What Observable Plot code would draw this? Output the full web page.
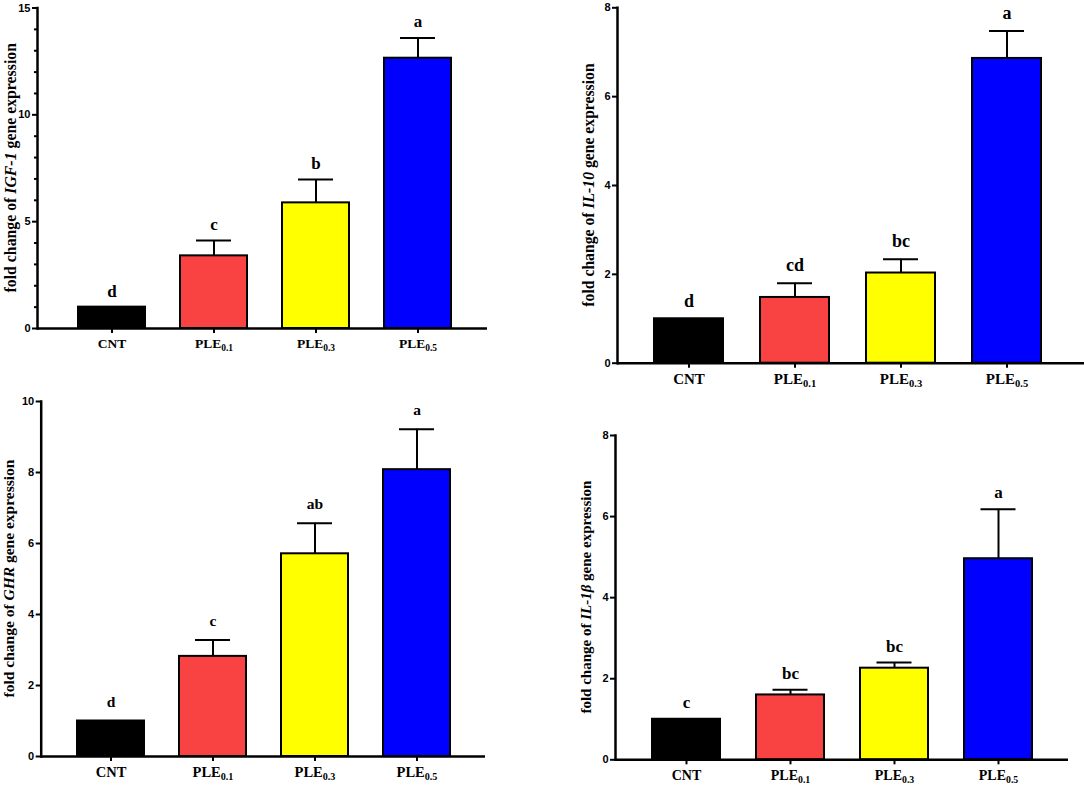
<!DOCTYPE html>
<html><head><meta charset="utf-8">
<script src="https://cdn.jsdelivr.net/npm/d3@7"></script>
<script src="https://cdn.jsdelivr.net/npm/@observablehq/plot@0.6"></script>
<style>
body{margin:0;background:#fff;}
#root{position:relative;width:1084px;height:787px;overflow:hidden;background:#fff;}
.panel{position:absolute;}
</style></head><body><div id="root"></div>
<script>
// ---- data ----
const categories = ["CNT", "PLE0.1", "PLE0.3", "PLE0.5"];
const barColors = ["#000000", "#f94343", "#ffff00", "#0000ff"];

const igf1Values = [1.0, 3.40, 5.88, 12.65];
const igf1Errors = [0, 0.72, 1.09, 0.95];
const igf1Letters = ["d", "c", "b", "a"];

const il10Values = [1.0, 1.48, 2.03, 6.86];
const il10Errors = [0, 0.32, 0.31, 0.62];
const il10Letters = ["d", "cd", "bc", "a"];

const ghrValues = [1.0, 2.82, 5.71, 8.08];
const ghrErrors = [0, 0.46, 0.86, 1.14];
const ghrLetters = ["d", "c", "ab", "a"];

const il1bValues = [1.0, 1.60, 2.26, 4.96];
const il1bErrors = [0, 0.13, 0.14, 1.22];
const il1bLetters = ["c", "bc", "bc", "a"];

const igf1Ticks = [0, 5, 10, 15];
const igf1Minor = [1, 2, 3, 4, 6, 7, 8, 9, 11, 12, 13, 14];
const il10Ticks = [0, 2, 4, 6, 8];
const ghrTicks = [0, 2, 4, 6, 8, 10];
const il1bTicks = [0, 2, 4, 6, 8];

const SERIF = "'Liberation Serif', 'Times New Roman', serif";
const SANS = "'Liberation Sans', Arial, sans-serif";

function panel(cfg) {
  const data = categories.map((c, i) => ({cat: c, v: cfg.values[i], e: cfg.errors[i], letter: cfg.letters[i]}));
  const errData = data.filter(d => d.e > 0);
  const c = cfg.centers;
  const step = (c[3] - c[0]) / 3;
  const pin = 1 - cfg.barWidth / step;
  const capInset = (cfg.barWidth - 35) / 2;
  const marks = [
    Plot.barY(data, {x: "cat", y: "v", fill: "cat", stroke: "#000", strokeWidth: 2}),
    Plot.ruleX(errData, {x: "cat", y1: "v", y2: d => d.v + d.e, stroke: "#000", strokeWidth: 2}),
    Plot.tickY(errData, {x: "cat", y: d => d.v + d.e, stroke: "#000", strokeWidth: 2, insetLeft: capInset, insetRight: capInset}),
    Plot.text(data, {x: "cat", y: d => d.v + d.e, text: "letter", dy: cfg.letterDy, lineAnchor: "bottom",
      fontSize: cfg.letterSize, fontWeight: "bold", fontFamily: SERIF, fill: "#000"}),
    Plot.axisY({ticks: cfg.ticks, tickSize: 5, tickPadding: 2, tickFormat: d => String(d), fontSize: 11,
      fontWeight: "bold", fontFamily: SANS, strokeWidth: 2, label: null, fill: "#000"}),
  ];
  if (cfg.minor) marks.push(Plot.axisY({ticks: cfg.minor, tickSize: 3, tickFormat: () => "", strokeWidth: 2, label: null}));
  marks.push(
    Plot.axisX({tickSize: 5, tickPadding: 5, fontSize: cfg.xSize, fontWeight: "bold", fontFamily: SERIF,
      strokeWidth: 2, label: null, fill: "#000"}),
    Plot.ruleY([0], {strokeWidth: 2.5, stroke: "#000"}),
    Plot.frame({anchor: "left", strokeWidth: 2.5, stroke: "#000"})
  );
  const svg = Plot.plot({
    width: cfg.width, height: cfg.height,
    marginLeft: cfg.mL, marginRight: cfg.mR, marginTop: cfg.mT, marginBottom: cfg.mB,
    style: {background: "white", overflow: "visible", color: "#000"},
    x: {domain: categories, range: [c[0] - step / 2, c[3] + step / 2], paddingInner: pin, paddingOuter: pin / 2, axis: null},
    y: {domain: [0, cfg.ticks[cfg.ticks.length - 1]], axis: null},
    color: {domain: categories, range: barColors},
    marks
  });
  const s = d3.select(svg);
  // subscripts on x tick labels
  s.selectAll('g[aria-label="x-axis tick label"] text').each(function () {
    const t = this.textContent;
    const m = t.match(/^PLE(.+)$/);
    if (m) {
      this.textContent = "PLE";
      d3.select(this).append("tspan").attr("font-size", cfg.xSize * 0.7).attr("dy", "0.3em").text(m[1]);
    }
  });
  // y axis title with italic gene name
  const title = s.append("text")
    .attr("transform", `translate(${cfg.titleX},${(cfg.mT + cfg.height - cfg.mB) / 2}) rotate(-90)`)
    .attr("text-anchor", "middle")
    .attr("font-family", SERIF).attr("font-weight", "bold").attr("font-size", cfg.titleSize).attr("fill", "#000");
  title.append("tspan").text("fold change of ");
  title.append("tspan").attr("font-style", "italic").text(cfg.gene);
  title.append("tspan").text(" gene expression");
  const wrap = document.createElement("div");
  wrap.className = "panel";
  wrap.style.left = cfg.left + "px";
  wrap.style.top = cfg.top + "px";
  wrap.appendChild(svg);
  document.getElementById("root").appendChild(wrap);
}

panel({left: 0, top: 0, width: 540, height: 390, mL: 37, mR: 53, mT: 7.5, mB: 62,
  centers: [110.5, 213.5, 315.5, 418], barWidth: 67,
  values: igf1Values, errors: igf1Errors, letters: igf1Letters, ticks: igf1Ticks, minor: igf1Minor,
  letterSize: 17, letterDy: -10.5, xSize: 13.5, titleX: 16, titleSize: 15.8, gene: "IGF-1"});

panel({left: 560, top: 0, width: 524, height: 390, mL: 57, mR: 0, mT: 7.3, mB: 27.3,
  centers: [128.3, 234.7, 340.8, 446.8], barWidth: 69,
  values: il10Values, errors: il10Errors, letters: il10Letters, ticks: il10Ticks,
  letterSize: 18, letterDy: -12, xSize: 15, titleX: 34, titleSize: 15.7, gene: "IL-10"});

panel({left: 0, top: 390, width: 540, height: 397, mL: 40.7, mR: 55, mT: 11, mB: 31,
  centers: [109.3, 211.8, 314.3, 416.7], barWidth: 67,
  values: ghrValues, errors: ghrErrors, letters: ghrLetters, ticks: ghrTicks,
  letterSize: 15.5, letterDy: -14, xSize: 14.5, titleX: 14, titleSize: 15.5, gene: "GHR"});

panel({left: 560, top: 390, width: 524, height: 397, mL: 55, mR: 16, mT: 45, mB: 27.7,
  centers: [124.7, 229.5, 333.8, 438.3], barWidth: 68,
  values: il1bValues, errors: il1bErrors, letters: il1bLetters, ticks: il1bTicks,
  letterSize: 17, letterDy: -11, xSize: 14, titleX: 31, titleSize: 15, gene: "IL-1β"});
</script>
</body></html>
